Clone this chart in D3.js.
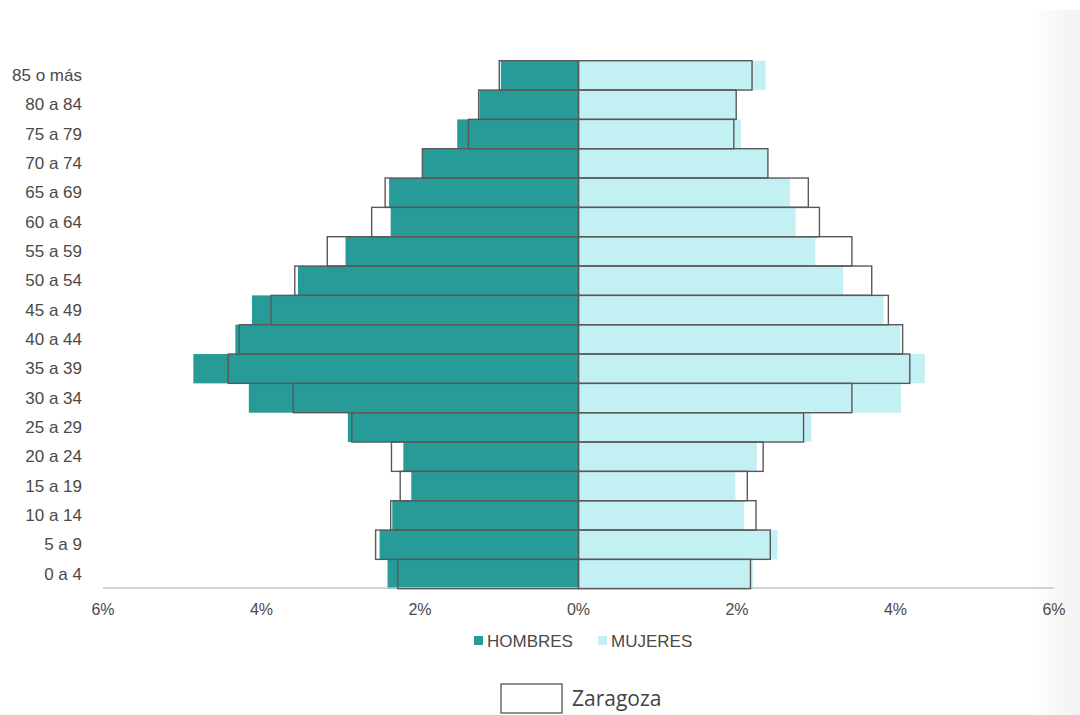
<!DOCTYPE html>
<html><head><meta charset="utf-8">
<script src="https://cdn.jsdelivr.net/npm/d3@7"></script>
<style>html,body{margin:0;padding:0;background:#fff;}svg{display:block;}</style>
</head><body>
<svg id="c" width="1080" height="715"></svg>
<script>
const categories = ["85 o más","80 a 84","75 a 79","70 a 74","65 a 69","60 a 64","55 a 59","50 a 54","45 a 49","40 a 44","35 a 39","30 a 34","25 a 29","20 a 24","15 a 19","10 a 14","5 a 9","0 a 4"];
const hombres  = [0.98,1.25,1.53,1.97,2.39,2.37,2.94,3.54,4.12,4.33,4.86,4.16,2.91,2.21,2.11,2.35,2.51,2.41];
const mujeres  = [2.36,2.00,2.05,2.39,2.67,2.74,2.99,3.34,3.85,4.06,4.37,4.07,2.94,2.25,1.98,2.09,2.51,2.20];
const zaragozaH = [1.00,1.26,1.39,1.97,2.44,2.61,3.17,3.58,3.88,4.28,4.42,3.60,2.86,2.36,2.25,2.37,2.56,2.28];
const zaragozaM = [2.19,1.99,1.96,2.39,2.90,3.04,3.45,3.70,3.91,4.09,4.18,3.45,2.84,2.33,2.13,2.24,2.42,2.17];
const xTicks = [-6,-4,-2,0,2,4,6];
const legendSeries = ["HOMBRES","MUJERES"];
const outlineLabel = "Zaragoza";

const svg = d3.select("#c");
const teal = "#269b97", cyan = "#c3f0f3", outline = "#595959";
const textCol = "#4a4a4a";

// subtle right-edge shade
const defs = svg.append("defs");
const g1 = defs.append("linearGradient").attr("id","shade").attr("x1","0").attr("x2","1");
g1.append("stop").attr("offset","0").attr("stop-color","#fff");
g1.append("stop").attr("offset","1").attr("stop-color","#f2f2f2");
svg.append("rect").attr("x",1030).attr("y",10).attr("width",50).attr("height",705).attr("fill","url(#shade)");

const x = d3.scaleLinear().domain([-6,6]).range([103,1054]);
const y = d3.scaleBand().domain(categories).range([60.7,588.7]).padding(0);

const rows = categories.map((c,i)=>({c, h:hombres[i], m:mujeres[i], zh:zaragozaH[i], zm:zaragozaM[i]}));

// fills
svg.append("g").selectAll("rect").data(rows).join("rect")
  .attr("x", d=>x(-d.h)).attr("y", d=>y(d.c))
  .attr("width", d=>x(0)-x(-d.h)).attr("height", y.bandwidth())
  .attr("fill", teal);
svg.append("g").selectAll("rect").data(rows).join("rect")
  .attr("x", x(0)).attr("y", d=>y(d.c))
  .attr("width", d=>x(d.m)-x(0)).attr("height", y.bandwidth())
  .attr("fill", cyan);

// axis line
svg.append("line").attr("x1",x(-6)).attr("x2",x(6)).attr("y1",588).attr("y2",588)
  .attr("stroke","#c4c4c4").attr("stroke-width",1.5);

// outlines
svg.append("g").selectAll("rect").data(rows).join("rect")
  .attr("x", d=>x(-d.zh)).attr("y", d=>y(d.c))
  .attr("width", d=>x(0)-x(-d.zh)).attr("height", y.bandwidth())
  .attr("fill","none").attr("stroke",outline).attr("stroke-width",1.4);
svg.append("g").selectAll("rect").data(rows).join("rect")
  .attr("x", x(0)).attr("y", d=>y(d.c))
  .attr("width", d=>x(d.zm)-x(0)).attr("height", y.bandwidth())
  .attr("fill","none").attr("stroke",outline).attr("stroke-width",1.4);

// y labels
svg.append("g").selectAll("text").data(categories).join("text")
  .attr("x", 82).attr("y", d=>y(d)+y.bandwidth()/2)
  .attr("text-anchor","end").attr("dominant-baseline","central")
  .attr("font-family","Liberation Sans, Arial, sans-serif").attr("font-size",17)
  .attr("fill",textCol).text(d=>d);

// x tick labels
svg.append("g").selectAll("text").data(xTicks).join("text")
  .attr("x", d=>x(d)).attr("y", 609)
  .attr("text-anchor","middle").attr("dominant-baseline","central")
  .attr("font-family","Liberation Sans, Arial, sans-serif").attr("font-size",16)
  .attr("fill",textCol).text(d=>Math.abs(d)+"%");

// legend
const leg = svg.append("g");
const legX = [474, 598];
legendSeries.forEach((s,i)=>{
  leg.append("rect").attr("x",legX[i]).attr("y",636).attr("width",9).attr("height",9)
    .attr("fill", i===0?teal:cyan);
  leg.append("text").attr("x",legX[i]+13).attr("y",641).attr("dominant-baseline","central")
    .attr("font-family","Liberation Sans, Arial, sans-serif").attr("font-size",17)
    .attr("fill",textCol).text(s);
});
svg.append("rect").attr("x",501).attr("y",684).attr("width",61).attr("height",29)
  .attr("fill","#fff").attr("stroke","#555").attr("stroke-width",1.3);
svg.append("text").attr("x",572).attr("y",698).attr("dominant-baseline","central")
  .attr("font-family","Open Sans, sans-serif").attr("font-size",21)
  .attr("fill","#444").text(outlineLabel);
</script>
</body></html>
